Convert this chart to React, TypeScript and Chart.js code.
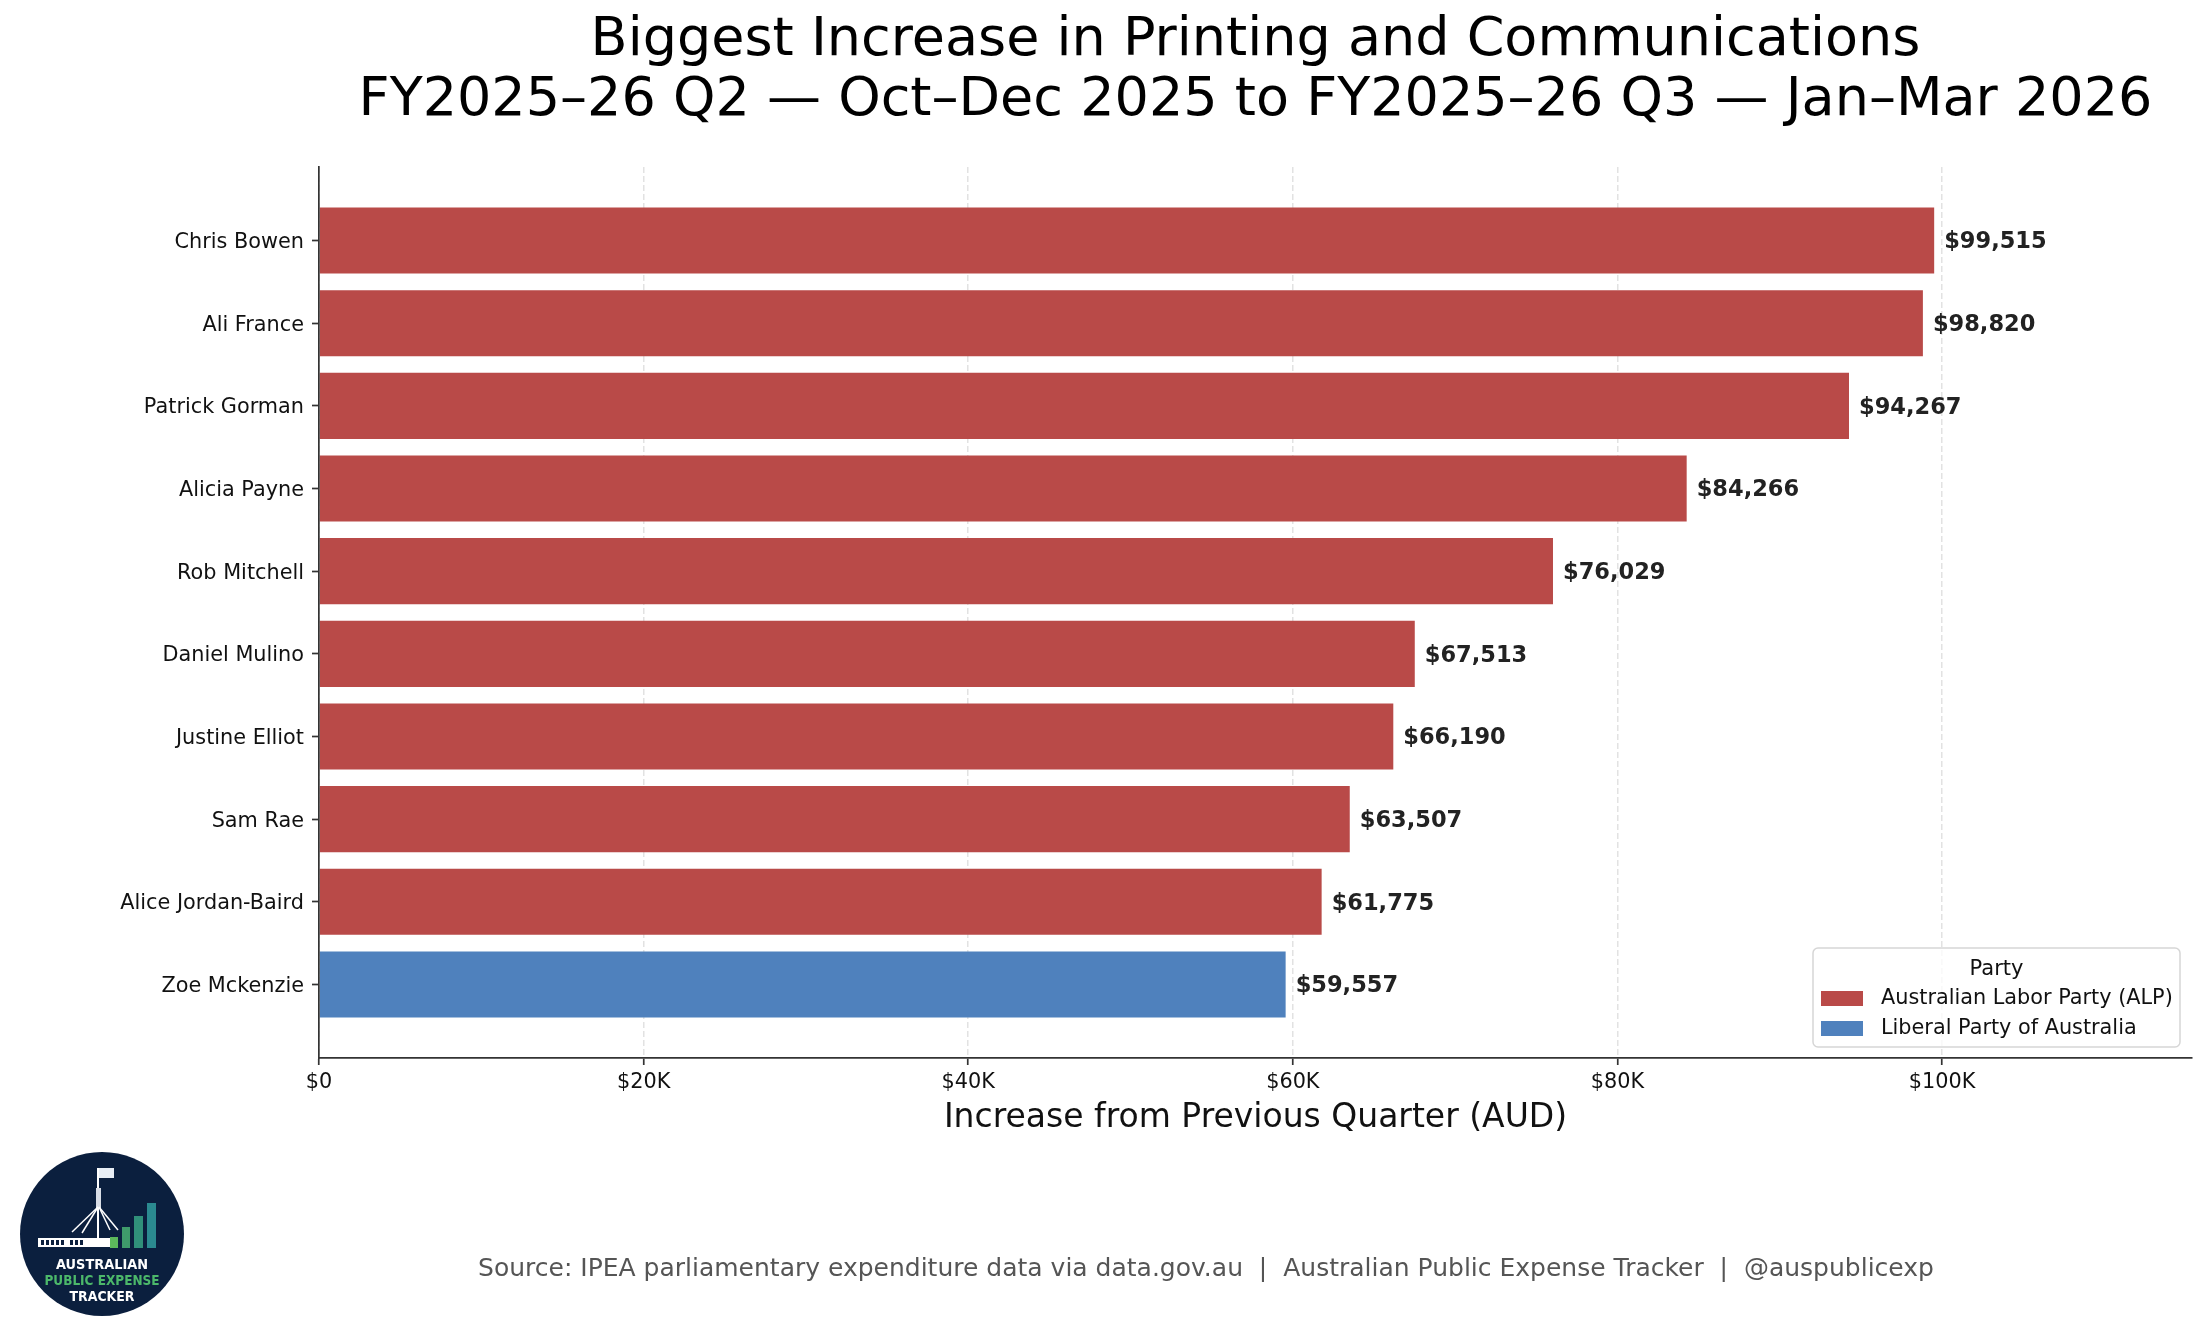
import { useEffect, useRef } from "react";
import { Chart, registerables } from "chart.js";

Chart.register(...registerables);

const FONT = "'DejaVu Sans', sans-serif";

const members = [
  "Chris Bowen",
  "Ali France",
  "Patrick Gorman",
  "Alicia Payne",
  "Rob Mitchell",
  "Daniel Mulino",
  "Justine Elliot",
  "Sam Rae",
  "Alice Jordan-Baird",
  "Zoe Mckenzie",
];
const increases = [99515, 98820, 94267, 84266, 76029, 67513, 66190, 63507, 61775, 59557];
const memberParties = ["ALP", "ALP", "ALP", "ALP", "ALP", "ALP", "ALP", "ALP", "ALP", "LIB"];

const partyKeys = ["ALP", "LIB"];
const partyNames = ["Australian Labor Party (ALP)", "Liberal Party of Australia"];
const partyColors = ["#B94A48", "#4F81BD"];

const xTickValues = [0, 20000, 40000, 60000, 80000, 100000];
const xTickLabels = ["$0", "$20K", "$40K", "$60K", "$80K", "$100K"];

const titleLines = [
  "Biggest Increase in Printing and Communications",
  "FY2025–26 Q2 — Oct–Dec 2025 to FY2025–26 Q3 — Jan–Mar 2026",
];
const xAxisTitle = "Increase from Previous Quarter (AUD)";
const legendTitle = "Party";
const sourceText =
  "Source: IPEA parliamentary expenditure data via data.gov.au  |  Australian Public Expense Tracker  |  @auspublicexp";

const colorFor = (party: string) => partyColors[partyKeys.indexOf(party)];

// title, value labels, legend box and footer
const overlayPlugin = {
  id: "overlay",
  afterDatasetsDraw(chart: any) {
    const ctx = chart.ctx;
    const meta = chart.getDatasetMeta(0);
    ctx.save();
    ctx.font = `bold 22.5px ${FONT}`;
    ctx.fillStyle = "#222";
    ctx.textAlign = "left";
    ctx.textBaseline = "middle";
    meta.data.forEach((bar: any, i: number) => {
      const p = bar.getProps(["x", "y"], true);
      ctx.fillText("$" + increases[i].toLocaleString("en-US"), p.x + 10, p.y + 2);
    });
    ctx.restore();
  },
  afterDraw(chart: any) {
    const ctx = chart.ctx;
    const area = chart.chartArea;
    ctx.save();

    // title
    ctx.fillStyle = "#000";
    ctx.font = `54px ${FONT}`;
    ctx.textAlign = "center";
    ctx.textBaseline = "alphabetic";
    const cx = (area.left + area.right) / 2;
    ctx.fillText(titleLines[0], cx, 55);
    ctx.fillText(titleLines[1], cx, 115);

    // legend
    const bx = area.right - 379;
    const by = area.bottom - 110;
    const bw = 367;
    const bh = 99;
    ctx.beginPath();
    ctx.roundRect(bx, by, bw, bh, 5);
    ctx.fillStyle = "rgba(255,255,255,0.8)";
    ctx.fill();
    ctx.strokeStyle = "#d6d6d6";
    ctx.lineWidth = 1.5;
    ctx.stroke();

    ctx.fillStyle = "#111";
    ctx.font = `21px ${FONT}`;
    ctx.textAlign = "center";
    ctx.fillText(legendTitle, bx + bw / 2, by + 27);

    ctx.textAlign = "left";
    ctx.textBaseline = "middle";
    ctx.font = `20.8px ${FONT}`;
    partyNames.forEach((name, i) => {
      const y = by + 43 + i * 30;
      ctx.fillStyle = partyColors[i];
      ctx.fillRect(bx + 8, y, 42, 15);
      ctx.fillStyle = "#111";
      ctx.fillText(name, bx + 68, y + 8);
    });

    // footer
    ctx.fillStyle = "#555";
    ctx.font = `25px ${FONT}`;
    ctx.textAlign = "center";
    ctx.textBaseline = "alphabetic";
    ctx.fillText(sourceText, 1206, 1276);
    ctx.restore();
  },
};

function Logo() {
  return (
    <svg
      width={164}
      height={164}
      viewBox="0 0 164 164"
      style={{ position: "absolute", left: 20, top: 1152 }}
    >
      <circle cx={82} cy={82} r={82} fill="#0b1f3e" />
      {/* flag and pole */}
      <rect x={78} y={16} width={16} height={10} fill="#e8eef5" />
      <rect x={77} y={16} width={2} height={70} fill="#ffffff" />
      <rect x={76} y={36} width={5} height={20} fill="#d8dde6" />
      <g stroke="#ffffff" strokeWidth={1.5}>
        <line x1={78} y1={55} x2={52} y2={80} />
        <line x1={78} y1={55} x2={62} y2={81} />
        <line x1={79} y1={55} x2={90} y2={78} />
        <line x1={79} y1={55} x2={98} y2={78} />
      </g>
      {/* parliament building */}
      <rect x={18} y={86} width={72} height={9} fill="#ffffff" />
      <g fill="#0b1f3e">
        <rect x={21} y={88} width={3} height={5} />
        <rect x={26} y={88} width={3} height={5} />
        <rect x={31} y={88} width={3} height={5} />
        <rect x={36} y={88} width={3} height={5} />
        <rect x={41} y={88} width={3} height={5} />
        <rect x={50} y={88} width={3} height={5} />
        <rect x={55} y={88} width={3} height={5} />
        <rect x={60} y={88} width={3} height={5} />
      </g>
      {/* growth bars */}
      <rect x={90} y={85} width={8} height={11} fill="#5cb85c" />
      <rect x={102} y={75} width={8} height={21} fill="#3f9b6b" />
      <rect x={114} y={64} width={9} height={32} fill="#30907a" />
      <rect x={127} y={51} width={9} height={45} fill="#2b8a90" />
      <g fontFamily="'DejaVu Sans', sans-serif" fontWeight="bold" fontSize={14} textAnchor="middle">
        <text x={82} y={117} fill="#ffffff" textLength={92} lengthAdjust="spacingAndGlyphs">
          AUSTRALIAN
        </text>
        <text x={82} y={133} fill="#4cb86a" textLength={115} lengthAdjust="spacingAndGlyphs">
          PUBLIC EXPENSE
        </text>
        <text x={82} y={149} fill="#ffffff" textLength={65} lengthAdjust="spacingAndGlyphs">
          TRACKER
        </text>
      </g>
    </svg>
  );
}

export default function App() {
  const canvasRef = useRef<HTMLCanvasElement | null>(null);

  useEffect(() => {
    if (!canvasRef.current) return;

    const chart = new Chart(canvasRef.current, {
      type: "bar",
      data: {
        datasets: [
          {
            label: "Increase",
            data: increases.map((v, i) => ({ x: v, y: i })),
            backgroundColor: memberParties.map(colorFor),
            borderWidth: 0,
            barPercentage: 0.8,
            categoryPercentage: 1.0,
          },
        ],
      },
      options: {
        indexAxis: "y",
        responsive: false,
        animation: false,
        devicePixelRatio: 1,
        layout: { padding: { top: 167, right: 13, bottom: 0, left: 0 } },
        plugins: {
          legend: { display: false },
          tooltip: { enabled: false },
          title: { display: false },
        },
        scales: {
          x: {
            type: "linear",
            min: 0,
            max: 115400,
            afterBuildTicks: (scale: any) => {
              scale.ticks = xTickValues.map((v) => ({ value: v }));
            },
            afterFit: (scale: any) => {
              scale.height = 279;
            },
            ticks: {
              callback: (_v: any, i: number) => xTickLabels[i],
              font: { family: FONT, size: 20.8 },
              color: "#111",
              padding: 5,
              maxRotation: 0,
              autoSkip: false,
            },
            grid: {
              color: "#e2e2e2",
              lineWidth: 1.5,
              drawTicks: true,
              tickLength: 7,
              tickColor: "#333",
              tickWidth: 1.7,
              tickBorderDash: [],
            },
            border: { display: true, color: "#333", width: 1.7, dash: [6, 3], z: 1 },
            title: {
              display: true,
              text: xAxisTitle,
              font: { family: FONT, size: 33 },
              color: "#111",
              padding: { top: 0, bottom: 199 },
            },
          },
          y: {
            type: "linear",
            reverse: true,
            offset: false,
            min: -0.89,
            max: 9.89,
            afterBuildTicks: (scale: any) => {
              scale.ticks = members.map((_m, i) => ({ value: i }));
            },
            afterFit: (scale: any) => {
              scale.width = 319;
            },
            ticks: {
              callback: (v: any) => members[Number(v)] ?? "",
              font: { family: FONT, size: 20.8 },
              color: "#111",
              padding: 8,
              labelOffset: 2,
              autoSkip: false,
            },
            grid: {
              offset: false,
              drawOnChartArea: false,
              drawTicks: true,
              tickLength: 7,
              tickColor: "#333",
              tickWidth: 1.7,
            },
            border: { display: true, color: "#333", width: 1.7, z: 1 },
          },
        },
      },
      plugins: [overlayPlugin],
    } as any);

    return () => chart.destroy();
  }, []);

  return (
    <div
      style={{
        position: "absolute",
        left: 0,
        top: 0,
        width: 2205,
        height: 1337,
        background: "#fff",
        overflow: "hidden",
      }}
    >
      <canvas ref={canvasRef} width={2205} height={1337} style={{ display: "block" }} />
      <Logo />
    </div>
  );
}
